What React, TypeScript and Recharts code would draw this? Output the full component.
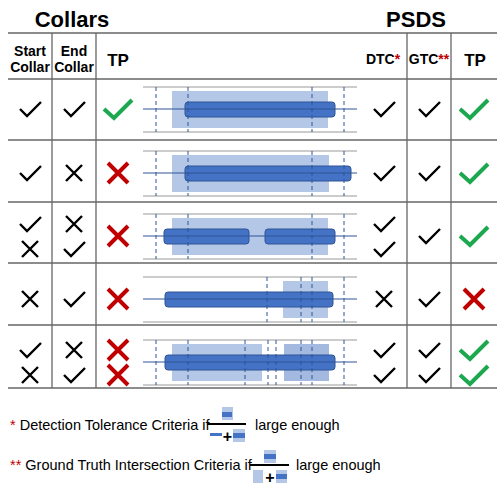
import { ComposedChart, XAxis, YAxis, ReferenceArea, ReferenceLine, Scatter, Customized } from "recharts";

const W = 497;
const H = 500;

// row centres of the five example rows
const rowY = [109, 173, 236, 299, 362];
const rowLines = [79, 140, 202, 263, 325, 388];

// light (ground truth) boxes per row: [x1, x2]
const lightBoxes = [
  [[172, 328]],
  [[172, 329]],
  [[172, 328]],
  [[283, 328]],
  [[172, 262], [284, 329]],
];
// dark (detection) bars per row
const darkBars = [
  [[185, 335]],
  [[185, 351]],
  [[164, 249], [265, 335]],
  [[165, 333]],
  [[165, 335]],
];
// dashed tolerance lines per row
const dashes = [
  [156, 188, 312, 344],
  [156, 188, 312, 344],
  [156, 188, 312, 344],
  [267, 301, 312, 344],
  [156, 188, 245, 268, 276, 301, 312, 344],
];

// symbols: c = check, x = cross, C/X = coloured
const colX = [30, 74, 118, 384, 429, 474];
const marks = [
  ["c", "c", "C", "c", "c", "C"],
  ["c", "x", "X", "c", "c", "C"],
  ["cx", "xc", "X", "cc", "c", "C"],
  ["x", "c", "X", "x", "c", "X"],
  ["cx", "xc", "XX", "cc", "cc", "CC"],
];

const symbolData: { x: number; y: number; kind: string }[] = [];
marks.forEach((row, r) =>
  row.forEach((cell, c) => {
    const ks = cell.split("");
    ks.forEach((k, i) => {
      const off = ks.length === 2 ? (i === 0 ? -12 : 13) : 0;
      symbolData.push({ x: colX[c], y: rowY[r] + off, kind: k });
    });
  })
);

const GREEN = "#1ba84f";
const RED = "#c00000";
const BLUE = "#4472c4";
const LIGHT = "#b4c7e7";
const LINE = "#2f5597";
const GRID = "#666";

const Mark = (p: any) => {
  const { cx, cy, payload } = p;
  const k = payload.kind;
  if (k === "c")
    return <path d={`M${cx - 10},${cy} L${cx - 3},${cy + 7} L${cx + 11},${cy - 7}`} stroke="#000" strokeWidth={2.4} fill="none" />;
  if (k === "C")
    return <path d={`M${cx - 14},${cy} L${cx - 4},${cy + 9} L${cx + 14},${cy - 9}`} stroke={GREEN} strokeWidth={4} fill="none" />;
  const s = k === "X" ? 10 : 8;
  return (
    <path
      d={`M${cx - s},${cy - s} L${cx + s},${cy + s} M${cx + s},${cy - s} L${cx - s},${cy + s}`}
      stroke={k === "X" ? RED : "#000"}
      strokeWidth={k === "X" ? 4 : 2.4}
      fill="none"
    />
  );
};

const Rounded = (p: any) => (
  <rect x={p.x} y={p.y} width={p.width} height={p.height} rx={3} fill={BLUE} stroke={LINE} strokeWidth={1} />
);

const Texts = () => {
  const b = { fontFamily: "Liberation Sans, Arial, sans-serif", fontWeight: 700 } as const;
  const n = { fontFamily: "Liberation Sans, Arial, sans-serif" } as const;
  return (
    <g>
      <text x={72} y={27} textAnchor="middle" fontSize={22} {...b}>Collars</text>
      <text x={416} y={27} textAnchor="middle" fontSize={22} {...b}>PSDS</text>
      <text x={30} y={56} textAnchor="middle" fontSize={14} {...b}>Start</text>
      <text x={30} y={72} textAnchor="middle" fontSize={14} {...b}>Collar</text>
      <text x={74} y={56} textAnchor="middle" fontSize={14} {...b}>End</text>
      <text x={74} y={72} textAnchor="middle" fontSize={14} {...b}>Collar</text>
      <text x={118} y={66} textAnchor="middle" fontSize={17} {...b}>TP</text>
      <text x={383} y={64} textAnchor="middle" fontSize={14} {...b}>DTC<tspan fill={RED}>*</tspan></text>
      <text x={429} y={64} textAnchor="middle" fontSize={14} {...b}>GTC<tspan fill={RED}>**</tspan></text>
      <text x={475} y={66} textAnchor="middle" fontSize={17} {...b}>TP</text>
      <text x={10} y={430} fontSize={14.5} {...n}><tspan fill={RED}>*</tspan> Detection Tolerance Criteria if</text>
      <text x={255} y={430} fontSize={14.5} {...n}>large enough</text>
      <text x={10} y={470} fontSize={14.5} {...n}><tspan fill={RED}>**</tspan> Ground Truth Intersection Criteria if</text>
      <text x={296} y={470} fontSize={14.5} {...n}>large enough</text>
      <text x={227.5} y={442} textAnchor="middle" fontSize={16} {...b}>+</text>
      <text x={270} y={483} textAnchor="middle" fontSize={16} {...b}>+</text>
    </g>
  );
};

// footer fraction icons: [x1, x2, y1, y2]
const footLight = [[222, 233, 407, 420], [233, 245, 429, 442], [264, 276, 450, 463], [253, 263, 470, 483], [276, 287, 470, 483]];
const footDark = [[222, 232, 412, 417], [210, 222, 433, 436], [233, 245, 433, 438], [264, 276, 454, 459], [276, 287, 474, 479]];
const fracBars = [[207, 246, 424], [250, 289, 465]];

export default function App() {
  return (
    <div style={{ position: "absolute", left: 0, top: 0, background: "#fff" }}>
      <ComposedChart width={W} height={H} margin={{ top: 0, right: 0, bottom: 0, left: 0 }} data={symbolData}>
        <XAxis type="number" dataKey="x" domain={[0, W]} hide allowDataOverflow />
        <YAxis type="number" dataKey="y" domain={[0, H]} reversed hide allowDataOverflow />
        {/* table grid */}
        <ReferenceLine segment={[{ x: 8, y: 33 }, { x: W, y: 33 }]} stroke={GRID} strokeWidth={1.3} />
        {rowLines.map((y) => (
          <ReferenceLine key={"h" + y} segment={[{ x: 8, y }, { x: W, y }]} stroke={GRID} strokeWidth={1.3} />
        ))}
        {[52, 96, 407, 451].map((x) => (
          <ReferenceLine key={"v" + x} segment={[{ x, y: 33 }, { x, y: 388 }]} stroke={GRID} strokeWidth={1.3} />
        ))}
        {rowY.map((cy, r) => [
          <ReferenceLine key={"t" + r} segment={[{ x: 143, y: cy - 22 }, { x: 357, y: cy - 22 }]} stroke="#999" />,
          <ReferenceLine key={"b" + r} segment={[{ x: 143, y: cy + 23 }, { x: 357, y: cy + 23 }]} stroke="#999" />,
          ...lightBoxes[r].map(([a, b], i) => (
            <ReferenceArea key={"l" + r + i} x1={a} x2={b} y1={cy - 18} y2={cy + 19} fill={r === 4 && i === 1 ? "#a3b9e0" : LIGHT} fillOpacity={1} stroke="none" />
          )),
          <ReferenceLine key={"c" + r} segment={[{ x: 143, y: cy }, { x: 357, y: cy }]} stroke={LINE} />,
          ...dashes[r].map((x) => (
            <ReferenceLine key={"d" + r + x} segment={[{ x, y: cy - 22 }, { x, y: cy + 23 }]} stroke={LINE} strokeDasharray="4 3" />
          )),
          ...darkBars[r].map(([a, b], i) => (
            <ReferenceArea key={"k" + r + i} x1={a} x2={b} y1={cy - 7} y2={cy + 8} shape={Rounded} />
          )),
        ])}
        {footLight.map(([a, b, c, d], i) => (
          <ReferenceArea key={"fl" + i} x1={a} x2={b} y1={c} y2={d} fill={LIGHT} fillOpacity={1} stroke="none" />
        ))}
        {footDark.map(([a, b, c, d], i) => (
          <ReferenceArea key={"fd" + i} x1={a} x2={b} y1={c} y2={d} fill={BLUE} fillOpacity={1} stroke="none" />
        ))}
        {fracBars.map(([a, b, y], i) => (
          <ReferenceLine key={"fb" + i} segment={[{ x: a, y }, { x: b, y }]} stroke="#000" strokeWidth={2} />
        ))}
        <Scatter dataKey="y" data={symbolData} shape={Mark} isAnimationActive={false} />
        <Customized component={Texts} />
      </ComposedChart>
    </div>
  );
}
